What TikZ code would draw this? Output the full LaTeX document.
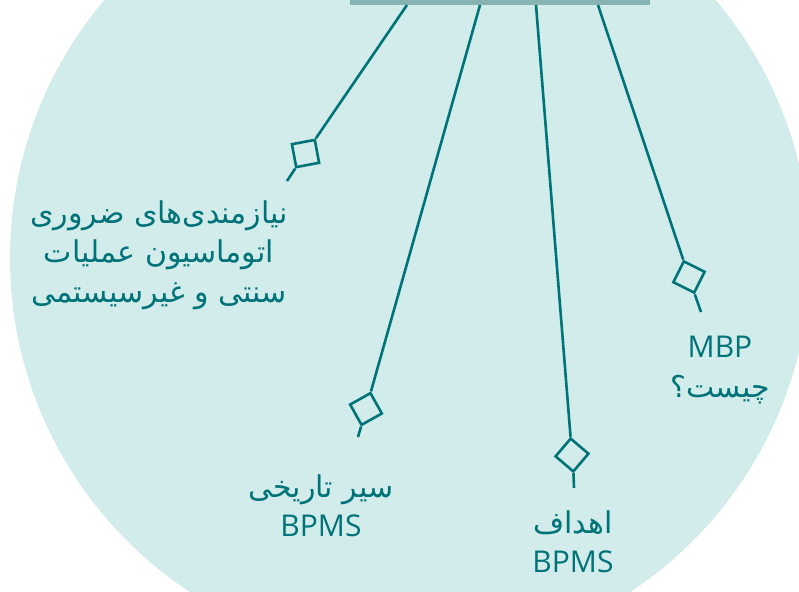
\documentclass[tikz,border=0pt]{standalone}
\usepackage{fontspec}
\setmainfont{Open Sans}
\newfontfamily\arabicfont[Script=Arabic]{DejaVu Sans}
\TeXXeTstate=1
\usetikzlibrary{shapes.geometric}
\definecolor{bgteal}{HTML}{D1ECEA}
\definecolor{barteal}{HTML}{87B3B3}
\definecolor{darkteal}{HTML}{007378}
\tikzset{knot/.style={diamond, draw=darkteal, line width=1.3pt, inner sep=0pt, minimum size=17pt},
branch/.style={draw=darkteal, line width=1.3pt},
topic/.style={text=darkteal, align=center, font=\fontsize{15pt}{19.7pt}\selectfont}}

\begin{document}
\begin{tikzpicture}[x=0.5pt,y=-0.5pt]
\useasboundingbox (0,0) rectangle (799,591);
\begin{scope}
\clip (0,0) rectangle (799,591);
\fill[bgteal] (410,258) circle (200pt);
\node[fill=barteal, minimum width=150pt, minimum height=10pt, inner sep=0pt] (root) at (500,-5) {};
\end{scope}
% start points on the bar
\coordinate (s1) at (407,5);
\coordinate (s2) at (480,5);
\coordinate (s3) at (536,5);
\coordinate (s4) at (598,5);
% diamonds
\node[knot, rotate=-34.35] (k1) at (305.5,153.5) {};
\node[knot, rotate=-15.76] (k2) at (366,409) {};
\node[knot, rotate=4.57] (k3) at (572,455) {};
\node[knot, rotate=18.5] (k4) at (689,277) {};
% tail ends
\coordinate (e1) at (287,181);
\coordinate (e2) at (358,437);
\coordinate (e3) at (574,488);
\coordinate (e4) at (701,312);
\foreach \i in {1,2,3,4}
{\draw[branch] (s\i) -- (k\i.north);
\draw[branch] (k\i.south) -- (e\i);}
% labels
\node[topic] (t1) at (159,255) {\arabicfont\beginR نیازمندی‌های ضروری\endR\\ \arabicfont\beginR اتوماسیون عملیات\endR\\ \arabicfont\beginR سنتی و غیرسیستمی\endR};
\node[topic] (t2) at (321,506) {\arabicfont\beginR سیر تاریخی\endR\\ BPMS};
\node[topic] (t3) at (573,542) {\arabicfont\beginR اهداف\endR\\ BPMS};
\node[topic] (t4) at (720,370) {MBP\\ \arabicfont\beginR چیست؟\endR};
\end{tikzpicture}
\end{document}
